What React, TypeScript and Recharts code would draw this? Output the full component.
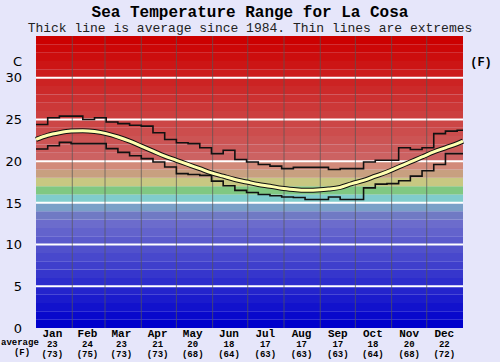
import { LineChart, Line, XAxis, YAxis, ReferenceArea, ReferenceLine } from "recharts";

// day of year -> temperatures (C)
const days = [0, 10, 20, 30, 40, 50, 60, 70, 80, 90, 100, 110, 120, 130, 140, 150, 160, 170, 180, 190, 200, 210, 220, 230, 240, 250, 260, 270, 280, 290, 300, 310, 320, 330, 340, 350, 360, 365];
const maxTemp = [24.4, 25.2, 25.4, 25.4, 25.0, 25.2, 24.7, 24.5, 24.3, 24.2, 23.4, 22.6, 22.2, 22.1, 21.6, 20.9, 21.3, 20.2, 19.9, 19.6, 19.4, 19.1, 19.25, 19.25, 19.25, 19.0, 19.1, 19.1, 19.9, 20.1, 20.1, 21.6, 21.4, 21.6, 23.3, 23.6, 23.7, 23.7];
const avgTemp = [22.6, 23.1, 23.4, 23.6, 23.65, 23.55, 23.3, 22.9, 22.4, 21.8, 21.2, 20.6, 20.1, 19.6, 19.1, 18.6, 18.2, 17.8, 17.5, 17.2, 17.0, 16.75, 16.6, 16.5, 16.55, 16.65, 16.85, 17.3, 17.7, 18.2, 18.7, 19.3, 19.9, 20.5, 21.1, 21.6, 22.1, 22.4];
const minTemp = [21.45, 21.85, 22.25, 22.1, 22.1, 22.1, 21.5, 21.05, 20.65, 20.3, 19.9, 19.3, 18.5, 18.4, 18.3, 17.6, 17.05, 16.5, 16.25, 16.0, 15.85, 15.7, 15.65, 15.4, 15.4, 15.7, 15.4, 15.4, 16.8, 17.25, 17.3, 17.65, 18.2, 18.85, 19.6, 20.9, 20.9, 20.9];

const monthNames = ["Jan", "Feb", "Mar", "Apr", "May", "Jun", "Jul", "Aug", "Sep", "Oct", "Nov", "Dec"];
const monthAvgC = ["23", "24", "23", "21", "20", "18", "17", "17", "17", "18", "20", "22"];
const monthAvgF = ["(73)", "(75)", "(73)", "(73)", "(68)", "(64)", "(63)", "(63)", "(63)", "(64)", "(68)", "(72)"];
const monthMids = [14, 44, 73, 104, 134, 165, 196, 227, 258, 288, 319, 349];
const monthStarts = [31, 59, 90, 120, 151, 181, 212, 243, 273, 304, 334];

const yTicks = [0, 5, 10, 15, 20, 25, 30];
const yTicksF = ["(32)", "(41)", "(50)", "(59)", "(68)", "(77)", "(86)"];
const bandStarts = Array.from({ length: 35 }, (_, i) => i);

const rows = days.map((day, i) => ({
  day,
  max: maxTemp[i],
  avg: avgTemp[i],
  min: minTemp[i],
}));

const MONO = "'Liberation Mono', 'DejaVu Sans Mono', monospace";

function bandColor(t: number) {
  if (t >= 20) {
    const v = Math.round((34 - t) * 7);
    return `rgb(204,${v},${v})`;
  }
  const fixed: Record<number, string> = {
    19: "rgb(210,138,122)",
    18: "rgb(200,160,128)",
    17: "rgb(200,200,130)",
    16: "rgb(128,200,130)",
    15: "rgb(128,204,204)",
    14: "rgb(122,160,200)",
    13: "rgb(112,122,196)",
  };
  if (fixed[t]) return fixed[t];
  const v = Math.round(t * 9);
  return `rgb(${v},${v},204)`;
}

function MonthTick(props: any) {
  const { x, payload } = props;
  const i = monthMids.indexOf(payload.value);
  return (
    <g fontFamily={MONO} fontWeight="bold" textAnchor="middle" fill="#000">
      <text x={x} y={337} fontSize={11}>{monthNames[i]}</text>
      <text x={x} y={347} fontSize={9}>{monthAvgC[i]}</text>
      <text x={x} y={357} fontSize={9}>{monthAvgF[i]}</text>
    </g>
  );
}

function LeftTick(props: any) {
  const { y, payload } = props;
  return (
    <text x={22} y={y} dy="0.36em" textAnchor="end" fontSize={13} fontFamily="'DejaVu Sans', sans-serif" fill="#000">
      {payload.value}
    </text>
  );
}

function RightTick(props: any) {
  const { y, payload } = props;
  const i = yTicks.indexOf(payload.value);
  return (
    <text x={481} y={y} dy="0.36em" textAnchor="middle" fontSize={12} fontWeight="bold" fontFamily={MONO} fill="#000">
      {yTicksF[i]}
    </text>
  );
}

export default function App() {
  return (
    <div style={{ position: "absolute", left: 0, top: 0, width: 500, height: 362, background: "#e6e6fa", overflow: "hidden" }}>
      <div style={{ position: "absolute", top: 5, left: 0, width: 500, textAlign: "center", fontFamily: MONO, fontWeight: "bold", fontSize: 16, lineHeight: "16px" }}>
        Sea Temperature Range for La Cosa
      </div>
      <div style={{ position: "absolute", top: 22, left: 0, width: 500, textAlign: "center", fontFamily: MONO, fontSize: 13, lineHeight: "13px", color: "#222" }}>
        Thick line is average since 1984. Thin lines are extremes
      </div>
      <div style={{ position: "absolute", top: 54, left: 13, fontFamily: "'DejaVu Sans', sans-serif", fontSize: 13, lineHeight: "16px" }}>C</div>
      <div style={{ position: "absolute", top: 55, left: 466, width: 30, textAlign: "center", fontFamily: MONO, fontWeight: "bold", fontSize: 12, lineHeight: "16px" }}>(F)</div>
      <div style={{ position: "absolute", top: 338, left: 1, fontFamily: MONO, fontWeight: "bold", fontSize: 9, lineHeight: "10px" }}>average</div>
      <div style={{ position: "absolute", top: 348, left: 8, width: 28, textAlign: "center", fontFamily: MONO, fontWeight: "bold", fontSize: 9, lineHeight: "10px" }}>(F)</div>
      <LineChart width={500} height={362} data={rows} margin={{ top: 36, right: 0, bottom: 0, left: 0 }}>
        <XAxis
          dataKey="day"
          type="number"
          domain={[0, 365]}
          ticks={monthMids}
          interval={0}
          tick={<MonthTick />}
          axisLine={false}
          tickLine={false}
          height={34}
        />
        <YAxis yAxisId="c" domain={[0, 35]} ticks={yTicks} interval={0} tick={<LeftTick />} axisLine={false} tickLine={false} width={36} />
        <YAxis yAxisId="f" orientation="right" domain={[0, 35]} ticks={yTicks} interval={0} tick={<RightTick />} axisLine={false} tickLine={false} width={37} />
        {bandStarts.map((t) => (
          <ReferenceArea key={t} yAxisId="c" y1={t} y2={t + 1} fill={bandColor(t)} fillOpacity={1} stroke="none" />
        ))}
        {yTicks.slice(1).map((t) => (
          <ReferenceLine key={"h" + t} yAxisId="c" y={t} stroke="#ffffff" strokeWidth={2} />
        ))}
        {monthStarts.map((d) => (
          <ReferenceLine key={"v" + d} yAxisId="c" x={d} stroke="#555555" strokeOpacity={0.7} strokeWidth={1} />
        ))}
        <Line yAxisId="c" type="stepAfter" dataKey="max" stroke="#111" strokeWidth={1.6} dot={false} activeDot={false} isAnimationActive={false} />
        <Line yAxisId="c" type="stepAfter" dataKey="min" stroke="#111" strokeWidth={1.6} dot={false} activeDot={false} isAnimationActive={false} />
        <Line yAxisId="c" type="monotone" dataKey="avg" stroke="#111" strokeWidth={5} dot={false} activeDot={false} isAnimationActive={false} />
        <Line yAxisId="c" type="monotone" dataKey="avg" stroke="#ffffb0" strokeWidth={3} dot={false} activeDot={false} isAnimationActive={false} />
      </LineChart>
    </div>
  );
}
